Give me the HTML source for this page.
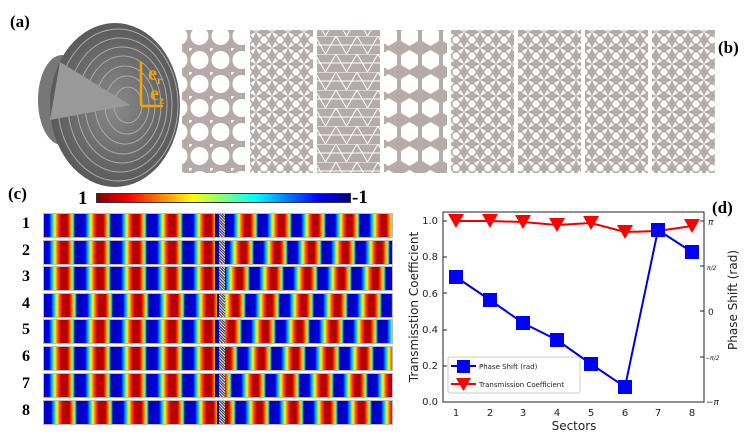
<!DOCTYPE html>
<html><head><meta charset="utf-8"><style>
body{margin:0;background:#fff;width:751px;height:436px;position:relative;overflow:hidden;font-family:"Liberation Serif",serif}
.lbl{position:absolute;font-weight:bold;font-size:17px}
.row{position:absolute;left:43px;width:350px;height:25px;border:1px solid #bbb;box-sizing:border-box;overflow:hidden}
.l{position:absolute;left:0;top:0;height:100%;width:176px}
.r{position:absolute;left:180px;top:0;height:100%;width:170px}
.m{position:absolute;left:175px;top:0;width:6px;height:100%;background:repeating-linear-gradient(45deg,#444 0 1px,#ddd 1px 2px)}
.n{position:absolute;left:22px;font-weight:bold;font-size:16px}
</style></head><body>
<div class="lbl" style="left:10px;top:12px">(a)</div>
<div class="lbl" style="left:718px;top:38px">(b)</div>
<div class="lbl" style="left:8px;top:184px">(c)</div>
<div class="lbl" style="left:712px;top:198px">(d)</div>

<svg width="751" height="190" style="position:absolute;left:0;top:0">
<defs>
<pattern id="p1" width="21" height="24" patternUnits="userSpaceOnUse"><rect width="21" height="24" fill="#b5abab"/><circle cx="10.5" cy="12" r="9" fill="#fff"/><circle cx="0" cy="0" r="3" fill="#fff"/></pattern>
<pattern id="p2" width="16" height="16" patternUnits="userSpaceOnUse"><rect width="16" height="16" fill="#b5abab"/><circle cx="8" cy="8" r="3.5" fill="#fff"/><path d="M0 0L6 3L3 6Z M16 16L10 13L13 10Z M16 0L10 3L13 6Z M0 16L6 13L3 10Z" fill="#fff"/></pattern>
<pattern id="p3" width="21" height="18" patternUnits="userSpaceOnUse"><rect width="21" height="18" fill="#b5abab"/><path d="M0 0H21 M0 9H21 M0 0L10.5 18 M21 0L10.5 18" stroke="#fff" stroke-width="1"/></pattern>
<pattern id="p4" width="21" height="24" patternUnits="userSpaceOnUse"><rect width="21" height="24" fill="#b5abab"/><polygon points="10.5,2 19,7 19,17 10.5,22 2,17 2,7" fill="#fff"/></pattern>
<radialGradient id="dg" cx="0.5" cy="0.5" r="0.5"><stop offset="0" stop-color="#8a8a8a"/><stop offset="1" stop-color="#5a5a5a"/></radialGradient>
</defs>
<ellipse cx="62" cy="100" rx="24" ry="45" fill="#777"/>
<ellipse cx="115" cy="105" rx="65" ry="82" fill="url(#dg)"/>
<g fill="none" stroke="#aaa" stroke-width="1">
<ellipse cx="118" cy="105" rx="60" ry="76"/><ellipse cx="120" cy="105" rx="52" ry="67"/><ellipse cx="122" cy="105" rx="45" ry="58"/><ellipse cx="123" cy="105" rx="38" ry="49"/><ellipse cx="125" cy="105" rx="30" ry="39"/><ellipse cx="127" cy="105" rx="22" ry="29"/><ellipse cx="128" cy="105" rx="14" ry="18"/></g>
<polygon points="130,105 60,62 50,120" fill="#999"/>
<g stroke="#f0a500" stroke-width="2.5" fill="#f0a500"><line x1="141" y1="106" x2="141" y2="62"/><line x1="141" y1="106" x2="163" y2="106"/></g>
<text x="148" y="80" font-family="Liberation Serif" font-weight="bold" font-size="20" fill="#f0a500">e<tspan font-size="12" dy="4">r</tspan></text>
<text x="150" y="100" font-family="Liberation Serif" font-weight="bold" font-size="20" fill="#f0a500">e<tspan font-size="12" dy="4">z</tspan></text>
<rect x="182" y="30" width="63" height="143" fill="url(#p1)"/>
<rect x="250" y="30" width="63" height="143" fill="url(#p2)"/>
<rect x="317" y="30" width="63" height="143" fill="url(#p3)"/>
<rect x="384" y="30" width="63" height="143" fill="url(#p4)"/>
<rect x="451" y="30" width="63" height="143" fill="url(#p2)"/>
<rect x="518" y="30" width="63" height="143" fill="url(#p2)"/>
<rect x="585" y="30" width="63" height="143" fill="url(#p2)"/>
<rect x="652" y="30" width="63" height="143" fill="url(#p2)"/>
</svg>

<div class="lbl" style="left:78px;top:188px;font-size:19px">1</div>
<div style="position:absolute;left:96px;top:193px;width:253px;height:8px;border:1px solid #333;background:linear-gradient(to right,#800000,#f00,#ff8000,#ff0,#80ff80,#0ff,#0080ff,#00f,#000080)"></div>
<div class="lbl" style="left:352px;top:187px;font-size:19px">-1</div>

<div id="rows"></div>
<script>
var J='repeating-linear-gradient(to right,#0000b0 0px,#0000e0 10px,#00c0ff 13px,#ffff00 16px,#ff4000 19px,#c00000 22px,#b00000 28px,#ff3000 30px,#ffc000 32px,#40ffc0 34px,#0000b0 36px)';
var J2='repeating-linear-gradient(to right,#0000b0 0px,#0000e0 9px,#00c0ff 12px,#ffff00 15px,#ff4000 18px,#c00000 21px,#b00000 26px,#ff3000 28px,#ffc000 30px,#40ffc0 32px,#0000b0 34px)';
var ys=[213,240,266,293,319,346,373,400],lo=[-5,-5,-5,-3,-5,-5,-5,-3],ro=[0,-4,-8,-12,-16,-20,-26,-22],h='';
for(var i=0;i<8;i++){h+='<div class="n" style="top:'+(ys[i]+2)+'px">'+(i+1)+'</div><div class="row" style="top:'+ys[i]+'px"><div class="l" style="background:'+J+';background-position:'+lo[i]+'px 0"></div><div class="r" style="background:'+J2+';background-position:'+ro[i]+'px 0"></div><div class="m"></div></div>';}
document.getElementById('rows').innerHTML=h;
</script>

<svg width="751" height="436" style="position:absolute;left:0;top:0;font-family:'DejaVu Sans',sans-serif">
<rect x="443" y="212" width="261" height="190" fill="none" stroke="#222" stroke-width="1"/>
<g font-size="10" fill="#222" text-anchor="end">
<text x="438" y="405">0.0</text><text x="438" y="369">0.2</text><text x="438" y="333">0.4</text><text x="438" y="297">0.6</text><text x="438" y="260">0.8</text><text x="438" y="224">1.0</text></g>
<g stroke="#222"><line x1="443" y1="402" x2="447" y2="402"/><line x1="443" y1="366" x2="447" y2="366"/><line x1="443" y1="330" x2="447" y2="330"/><line x1="443" y1="293" x2="447" y2="293"/><line x1="443" y1="257" x2="447" y2="257"/><line x1="443" y1="221" x2="447" y2="221"/>
<line x1="704" y1="221" x2="700" y2="221"/><line x1="704" y1="266" x2="700" y2="266"/><line x1="704" y1="311" x2="700" y2="311"/><line x1="704" y1="357" x2="700" y2="357"/><line x1="704" y1="402" x2="700" y2="402"/></g>
<g font-size="10" fill="#222" text-anchor="middle">
<text x="456" y="416">1</text><text x="490" y="416">2</text><text x="523" y="416">3</text><text x="557" y="416">4</text><text x="591" y="416">5</text><text x="625" y="416">6</text><text x="658" y="416">7</text><text x="692" y="416">8</text>
<text x="574" y="430" font-size="12">Sectors</text></g>
<g font-size="9" fill="#222" font-style="italic"><text x="708" y="225">π</text><text x="708" y="315" font-style="normal">0</text><text x="706" y="405">−π</text><text x="707" y="270" font-size="6">π/2</text><text x="705" y="360" font-size="6">−π/2</text></g>
<text transform="translate(418,307) rotate(-90)" font-size="12" fill="#222" text-anchor="middle">Transmisstion Coefficient</text>
<text transform="translate(737,300) rotate(-90)" font-size="12" fill="#222" text-anchor="middle">Phase Shift (rad)</text>
<polyline points="456,221 490,221 523,222 557,225 591,223 625,232 658,231 692,226" fill="none" stroke="#e00" stroke-width="2"/>
<g fill="#f00"><path d="M448,214h16l-8,14z"/><path d="M482,214h16l-8,14z"/><path d="M515,215h16l-8,14z"/><path d="M549,218h16l-8,14z"/><path d="M583,216h16l-8,14z"/><path d="M617,225h16l-8,14z"/><path d="M684,219h16l-8,14z"/></g>
<polyline points="456,277 490,300 523,323 557,340 591,364 625,387 658,230 692,252" fill="none" stroke="#0000dd" stroke-width="2"/>
<g fill="#0000ff"><rect x="449" y="270" width="14" height="14"/><rect x="483" y="293" width="14" height="14"/><rect x="516" y="316" width="14" height="14"/><rect x="550" y="333" width="14" height="14"/><rect x="584" y="357" width="14" height="14"/><rect x="618" y="380" width="14" height="14"/><rect x="651" y="223" width="14" height="14"/><rect x="685" y="245" width="14" height="14"/></g>
<rect x="448" y="357" width="132" height="36" fill="#fff" stroke="#ccc" rx="2"/>
<line x1="451" y1="366" x2="476" y2="366" stroke="#0000dd" stroke-width="2"/><rect x="457" y="360" width="13" height="13" fill="#00f"/>
<line x1="451" y1="384" x2="476" y2="384" stroke="#e00" stroke-width="2"/><path d="M456,378h15l-7.5,13z" fill="#f00"/>
<text x="479" y="369" font-size="7" fill="#222">Phase Shift (rad)</text>
<text x="479" y="387" font-size="7" fill="#222">Transmission Coefficient</text>
</svg>
</body></html>
